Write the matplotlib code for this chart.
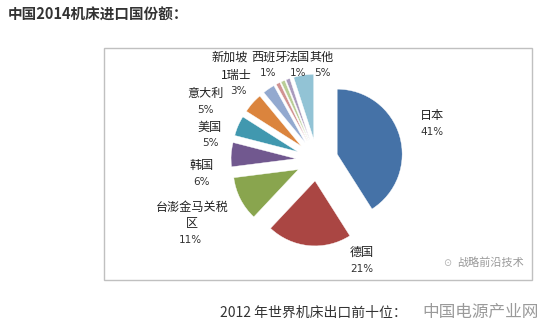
import matplotlib.pyplot as plt
from matplotlib.patches import Rectangle

plt.rcParams['font.family'] = ['Noto Sans CJK SC', 'DejaVu Sans']

# 中国2014机床进口国份额
countries = ['日本', '德国', '台澎金马关税区', '韩国', '美国', '意大利',
             '瑞士', '新加坡', '西班牙', '法国', '其他']
shares = [41, 21, 11, 6, 5, 5, 3, 1, 1, 1, 5]
colors = ['#4572A7', '#AA4643', '#89A54E', '#71588F', '#4198AF', '#DB843D',
          '#93A9CF', '#D19392', '#B9CD96', '#A99BBD', '#92C3D5']

# label text as it shows up in the picture (some labels overlap in the original)
name_labels = ['日本', '德国', '台澎金马关税\n区', '韩国', '美国', '意大利',
               '1瑞士', '新加坡', '西班牙', '法国', '其他']
pct_labels = ['41%', '21%', '11%', '6%', '5%', '5%', '3%', '1%', '1%', '', '5%']

W, H = 541, 328
fig = plt.figure(figsize=(W / 100, H / 100), dpi=100)
ax = fig.add_axes([0, 0, 1, 1])

# chart frame
ax.add_patch(Rectangle((104, H - 280), 428, 232, fill=False,
                       edgecolor='#c0c0c0', lw=1.0))

r = 65
ax.pie(shares, colors=colors, startangle=90, counterclock=False,
       center=(317, H - 160), radius=r, explode=[21] * len(shares),
       wedgeprops=dict(edgecolor='white', linewidth=0.3), frame=True)
ax.set_xlim(0, W)
ax.set_ylim(0, H)
ax.set_aspect('equal')
ax.axis('off')

# label positions (pixel, from top-left)
name_pos = [(432, 115), (362, 252), (192, 215), (202, 165), (210, 127),
            (205, 93), (236, 75), (230, 57), (269, 57), (298, 57), (322, 57)]
pct_pos = [(432, 132), (362, 269), (190, 240), (202, 182), (210, 143),
           (205, 110), (238, 91), (268, 73), (298, 73), None, (322, 73)]

for name, (px, py) in zip(name_labels, name_pos):
    if '\n' in name:
        first, second = name.split('\n')
        ax.text(px, H - 207, first, fontsize=8.7, ha='center', va='center', color='#222222')
        ax.text(px, H - 224, second, fontsize=8.7, ha='center', va='center', color='#222222')
    else:
        ax.text(px, H - py, name, fontsize=8.7, ha='center', va='center', color='#222222')

for pct, pos in zip(pct_labels, pct_pos):
    if pos is None:
        continue
    ax.text(pos[0], H - pos[1], pct, fontsize=7.5, ha='center', va='center',
            color='#333333', family='DejaVu Sans')

# title and surrounding page text
fig.text(8 / W, 1 - 15 / H, '中国2014机床进口国份额：', fontsize=10.5,
         fontweight='bold', color='#333333', ha='left', va='center')
ax.text(457, H - 263, '战略前沿技术', fontsize=8, color='#9a9a9a',
        ha='left', va='center')
ax.text(447, H - 263, '⊙', fontsize=7, color='#b0b0b0', ha='center', va='center',
        family='DejaVu Sans')
ax.text(220, H - 313, '2012 年世界机床出口前十位：', fontsize=10,
        color='#333333', ha='left', va='center')
ax.text(422, H - 312, '中国电源产业网', fontsize=12, color='#9a9a9a',
        ha='left', va='center')

fig.savefig('out.png', dpi=100, facecolor='white')
